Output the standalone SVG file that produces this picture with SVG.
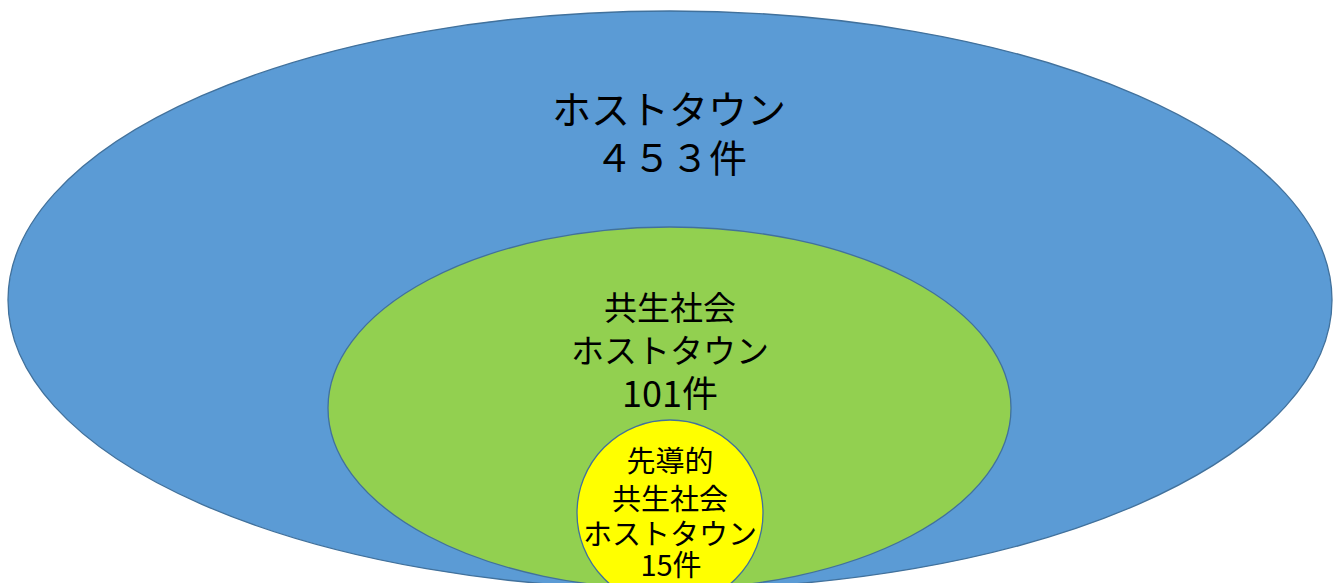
<svg xmlns="http://www.w3.org/2000/svg" width="1341" height="583" viewBox="0 0 1341 583">
<style>
.t{font-family:"Noto Sans CJK JP","Noto Sans CJK SC",sans-serif;fill:#000;text-anchor:middle}
.e{stroke:#41719C;stroke-width:1.3}
</style>
<rect width="1341" height="583" fill="#fff"/>
<g id="host">
<ellipse class="e" cx="670" cy="300" rx="662" ry="289" fill="#5B9BD5"/>
<text class="t" x="669" y="124" font-size="39">ホストタウン</text>
<text class="t" x="671" y="172" font-size="38">４５３件</text>
</g>
<g id="kyosei">
<ellipse class="e" cx="669.5" cy="408" rx="341.5" ry="181" fill="#92D050"/>
<text class="t" x="670" y="320" font-size="33">共生社会</text>
<text class="t" x="670" y="363" font-size="33">ホストタウン</text>
<text class="t" x="670" y="407" font-size="36">101件</text>
</g>
<g id="sendo">
<ellipse class="e" cx="670" cy="513" rx="93" ry="93" fill="#FFFF00"/>
<text class="t" x="670" y="472" font-size="29">先導的</text>
<text class="t" x="670" y="510" font-size="29">共生社会</text>
<text class="t" x="670" y="545" font-size="29">ホストタウン</text>
<text class="t" x="671" y="576" font-size="29">15件</text>
</g>
<g id="connectors"/>
</svg>
